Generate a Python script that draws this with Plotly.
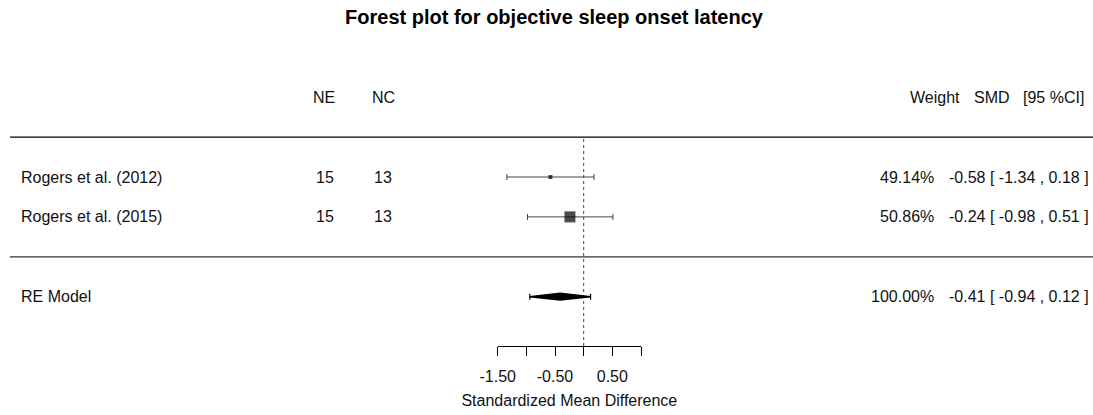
import plotly.graph_objects as go

# ---- data ----
studies = ["Rogers et al. (2012)", "Rogers et al. (2015)"]
n_exp = [15, 15]
n_ctl = [13, 13]
weights = [49.14, 50.86]
smd = [-0.58, -0.24]
ci_lb = [-1.34, -0.98]
ci_ub = [0.18, 0.51]
study_rows = [4, 3]

re_label = "RE Model"
re_est = -0.41
re_lb = -0.94
re_ub = 0.12
re_weight = 100.00
re_row = 1

tick_vals = [-1.5, -1.0, -0.5, 0.0, 0.5, 1.0]
tick_text = ["-1.50", "", "-0.50", "", "0.50", ""]
headers = ["NE", "NC", "Weight", "SMD", "[95 %CI]"]

# ---- layout constants ----
W, H = 1093, 415
FONT = "Liberation Sans, Arial, sans-serif"
TXT = "#111111"
header_row = 6
px_per_row = 39.9
row4_px = 177.0
y_top = 4 + row4_px / px_per_row
axis_px = 346.0
y_bot = 4 - (axis_px - row4_px) / px_per_row

fig = go.Figure()

# study CIs (drawn first, under the squares)
fig.add_trace(go.Scatter(
    x=smd, y=study_rows, mode="markers",
    marker=dict(size=1, color="rgba(0,0,0,0)"),
    error_x=dict(type="data", symmetric=False,
                 array=[u - e for u, e in zip(ci_ub, smd)],
                 arrayminus=[e - l for e, l in zip(smd, ci_lb)],
                 color="#444444", thickness=1, width=3),
    cliponaxis=False, hoverinfo="skip", showlegend=False))
# study squares
fig.add_trace(go.Scatter(
    x=smd, y=study_rows, mode="markers",
    marker=dict(symbol="square", size=[4, 11], color="black", line=dict(width=0)),
    cliponaxis=False, hoverinfo="skip", showlegend=False))

# RE model: CI line with caps + diamond
fig.add_trace(go.Scatter(
    x=[re_est], y=[re_row], mode="markers",
    marker=dict(size=1, color="rgba(0,0,0,0)"),
    error_x=dict(type="data", symmetric=False,
                 array=[re_ub - re_est], arrayminus=[re_est - re_lb],
                 color="black", thickness=1.2, width=3),
    cliponaxis=False, hoverinfo="skip", showlegend=False))
h = 0.085
fig.add_trace(go.Scatter(
    x=[re_lb, re_est, re_ub, re_est, re_lb],
    y=[re_row, re_row + h, re_row, re_row - h, re_row],
    mode="lines", fill="toself", fillcolor="black",
    line=dict(color="black", width=1.5),
    cliponaxis=False, hoverinfo="skip", showlegend=False))

shapes = [
    dict(type="line", xref="paper", yref="y", x0=10 / W, x1=1, y0=5, y1=5,
         line=dict(color="black", width=1.3)),
    dict(type="line", xref="paper", yref="y", x0=10 / W, x1=1, y0=2, y1=2,
         line=dict(color="#333333", width=1.2)),
    dict(type="line", xref="x", yref="y", x0=0, x1=0, y0=y_bot, y1=4.97,
         line=dict(color="#444444", width=1, dash="dot"), layer="below"),
]

ann = []
def add(text, xpx, y, anchor="center", size=16):
    ann.append(dict(text=text, x=xpx / W, xref="paper", y=y, yref="y",
                    xanchor=anchor, yanchor="middle", showarrow=False,
                    font=dict(family=FONT, size=size, color=TXT)))

header_x = [324, 383, 934.5, 991.7, 1053]
for t, x in zip(headers, header_x):
    add(t, x, header_row)

for s, ne, nc, w, e, l, u, r in zip(studies, n_exp, n_ctl, weights, smd, ci_lb, ci_ub, study_rows):
    add(s, 19, r, "left")
    add(str(ne), 325, r)
    add(str(nc), 382.5, r)
    add(f"{w:.2f}%", 936, r, "right")
    add(f"{e:.2f} [ {l:.2f} , {u:.2f} ]", 1091, r, "right")

add(re_label, 19, re_row, "left")
add(f"{re_weight:.2f}%", 936, re_row, "right")
add(f"{re_est:.2f} [ {re_lb:.2f} , {re_ub:.2f} ]", 1091, re_row, "right")

fig.update_layout(
    width=W, height=H, autosize=False,
    margin=dict(l=0, r=0, t=0, b=0, pad=0, autoexpand=False),
    paper_bgcolor="white", plot_bgcolor="white",
    font=dict(family=FONT, size=16, color=TXT),
    title=dict(text="<b>Forest plot for objective sleep onset latency</b>",
               x=554 / W, xanchor="center", y=1 - 17 / H, yanchor="middle",
               xref="paper", yref="container",
               font=dict(family=FONT, size=20, color="black")),
    xaxis=dict(domain=[497.7 / W, 641 / W], range=[-1.5, 1.0], automargin=False,
               tickmode="array", tickvals=tick_vals, ticktext=tick_text,
               ticks="outside", ticklen=9, tickwidth=1, tickcolor="black",
               ticklabelstandoff=7,
               showline=True, linecolor="black", linewidth=1,
               showgrid=False, zeroline=False,
               tickfont=dict(family=FONT, size=16, color=TXT),
               title=dict(text="Standardized Mean Difference", standoff=10,
                          font=dict(family=FONT, size=16, color=TXT))),
    yaxis=dict(domain=[(H - axis_px) / H, 1], range=[y_bot, y_top], automargin=False,
               visible=False, showgrid=False, zeroline=False),
    shapes=shapes, annotations=ann, hovermode=False, showlegend=False,
)

fig.write_html("out.html")
